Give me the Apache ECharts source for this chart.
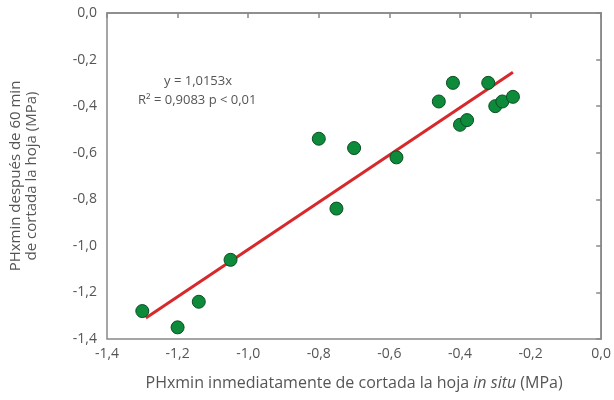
<!DOCTYPE html>
<html>
<head>
<meta charset="utf-8">
<script src="https://cdn.jsdelivr.net/npm/echarts@6/dist/echarts.min.js"></script>
<style>
  html, body { margin: 0; padding: 0; background: #fff; }
  #chart { width: 614px; height: 400px; }
</style>
</head>
<body>
<div id="chart"></div>
<script>
// PHxmin inmediatamente (x) vs después de 60 min (y)
const xValues = [-1.30, -1.20, -1.14, -1.05, -0.80, -0.75, -0.70, -0.58, -0.46, -0.42, -0.40, -0.38, -0.32, -0.30, -0.28, -0.25]
const yValues = [-1.28, -1.35, -1.24, -1.06, -0.54, -0.84, -0.58, -0.62, -0.38, -0.30, -0.48, -0.46, -0.30, -0.40, -0.38, -0.36]
// recta de regresión y = 1,0153x (extremos)
const fitX = [-1.29, -0.25]
const fitY = [-1.31, -0.254]
const axisTicks = [-1.4, -1.2, -1.0, -0.8, -0.6, -0.4, -0.2, 0.0]

const font = '"Open Sans", Lato, sans-serif'
const grey = '#555'
const fmt = v => v.toFixed(1).replace('.', ',')

const points = xValues.map((x, i) => [x, yValues[i]])
const fitLine = fitX.map((x, i) => [x, fitY[i]])

const chart = echarts.init(document.getElementById('chart'))
chart.setOption({
  backgroundColor: '#fff',
  textStyle: { fontFamily: font },
  grid: {
    left: 97, right: 11, top: 13, bottom: 61,
    show: true,
    borderColor: '#888',
    borderWidth: 1.5
  },
  xAxis: {
    type: 'value',
    min: axisTicks[0],
    max: axisTicks[axisTicks.length - 1],
    interval: 0.2,
    splitLine: { show: false },
    axisLine: { lineStyle: { color: '#888', width: 1.5 } },
    axisTick: { length: 5, lineStyle: { color: '#888', width: 1.5 } },
    axisLabel: { color: grey, fontSize: 14, margin: 8, formatter: fmt },
    name: '{a|PHxmin inmediatamente de cortada la hoja }{i|in situ}{a| (MPa)}',
    nameLocation: 'middle',
    nameGap: 36,
    nameTextStyle: {
      rich: {
        a: { color: grey, fontSize: 16, fontFamily: font },
        i: { color: grey, fontSize: 16, fontFamily: font, fontStyle: 'italic' }
      }
    }
  },
  yAxis: {
    type: 'value',
    min: axisTicks[0],
    max: axisTicks[axisTicks.length - 1],
    interval: 0.2,
    splitLine: { show: false },
    axisLine: { lineStyle: { color: '#888', width: 1.5 } },
    axisTick: { length: 5, lineStyle: { color: '#888', width: 1.5 } },
    axisLabel: { color: grey, fontSize: 14, margin: 10, formatter: fmt },
    name: 'PHxmin después de 60 min\nde cortada la hoja (MPa)',
    nameLocation: 'middle',
    nameGap: 67,
    nameTextStyle: { color: grey, fontSize: 15, lineHeight: 16 }
  },
  graphic: [
    {
      type: 'text',
      left: 164, top: 75,
      style: { text: 'y = 1,0153x', fill: grey, font: '13px ' + font }
    },
    {
      type: 'text',
      left: 138, top: 94,
      style: { text: 'R² = 0,9083 p < 0,01', fill: grey, font: '13px ' + font }
    }
  ],
  series: [
    {
      type: 'line',
      data: fitLine,
      symbol: 'none',
      lineStyle: { color: '#d7282c', width: 3 },
      z: 2
    },
    {
      type: 'scatter',
      data: points,
      symbolSize: 13,
      itemStyle: { color: '#0d8a3a', borderColor: '#0a4f22', borderWidth: 1, opacity: 1 },
      z: 3
    }
  ]
})
</script>
</body>
</html>
